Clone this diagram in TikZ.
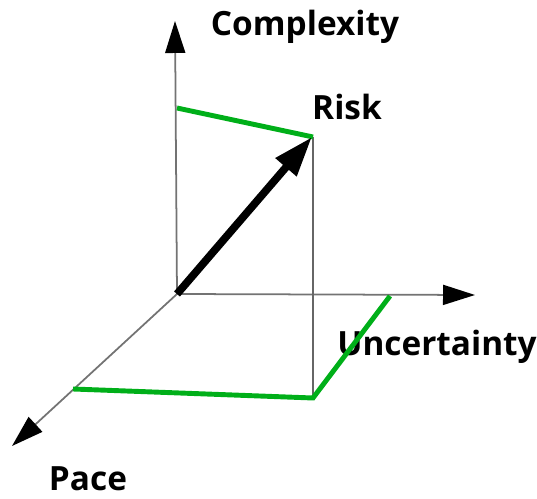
\documentclass[tikz,border=0pt]{standalone}
\usepackage{fontspec}
\setmainfont{Open Sans}
\usetikzlibrary{arrows.meta}

\begin{document}
\begin{tikzpicture}[
    x=0.02cm, y=-0.02cm,
    axis/.style={draw=black!55, line width=1pt, -{Triangle[length=0.64cm, width=0.4cm, color=black]}},
    guide/.style={draw=black!60, line width=0.7pt},
    level/.style={draw=green!65!black!90!cyan, line width=2.8pt, line join=miter},
    vec/.style={line width=4.4pt, -{Triangle[length=0.8cm, width=0.52cm]}},
    lbl/.style={font=\bfseries\fontsize{19}{22}\selectfont, inner sep=1pt}
]
\useasboundingbox (0,0) rectangle (537,499);
% labels (drawn first, the green lines lie over them)
\node[lbl] (complexity) at (305,27) {Complexity};
\node[lbl] (risk) at (347,107) {Risk};
\node[lbl] (uncertainty) at (437,347) {Uncertainty};
\node[lbl] (pace) at (88,479) {Pace};

% points
\coordinate (O) at (177,294);
\coordinate (R) at (312,137);
\coordinate (cTop) at (175,21);
\coordinate (uEnd) at (475,295);
\coordinate (pEnd) at (12,446);
\coordinate (cLev) at (177,108);
\coordinate (pLev) at (73,389);
\coordinate (base) at (313,398);
\coordinate (uLev) at (390,296);

% axes
\draw[axis] (O) -- (cTop);
\draw[axis] (O) -- (uEnd);
\draw[axis] (O) -- (pEnd);
\draw[guide] (313,137) -- (base);

% projections
\draw[level] (cLev) -- (313,137);
\draw[level] (pLev) -- (base) -- (uLev);

% risk vector
\draw[vec] (O) -- (R);
\end{tikzpicture}
\end{document}
